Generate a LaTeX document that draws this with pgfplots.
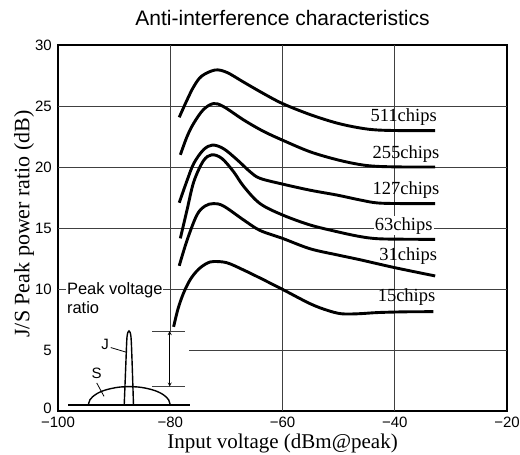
\documentclass[border=0pt]{standalone}
\usepackage{fontspec}
\setmainfont{Liberation Sans}
\newfontfamily\seriffont{Liberation Serif}
\usepackage{pgfplots}
\pgfplotsset{compat=1.18}
\tikzset{
  gridc/.style={black!75, line width=0.7pt},
  curve/.style={black, line width=2.9pt, smooth, tension=0.55},
  thin curve/.style={black, line width=1.4pt},
  chip/.style={font=\seriffont\fontsize{18.5}{20}\selectfont, inner sep=1pt},
}
\begin{document}
\begin{tikzpicture}
\begin{axis}[
  scale only axis, width=449pt, height=366pt,
  at={(0pt,0pt)}, anchor=south west,
  xmin=-100, xmax=-20, ymin=0, ymax=30,
  xtick={-100,-80,-60,-40,-20},
  xticklabels={−100,−80,−60,−40,−20},
  ytick={5,10,15,20,25,30},
  yticklabels={5,10,15,20,25,30},
  extra y ticks={0},
  extra y tick labels={0},
  extra y tick style={yticklabel style={yshift=3pt}},
  major tick length=0pt,
  axis line style={line width=1.3pt},
  tick label style={font=\fontsize{15}{17}\selectfont, inner sep=1pt},
  xticklabel style={yshift=-4.5pt},
  yticklabel style={xshift=-5pt},
  clip=false,
]
% grid
\draw[gridc] (axis cs:-100,10) -- (axis cs:-20,10);
\draw[gridc] (axis cs:-100,15) -- (axis cs:-20,15);
\draw[gridc] (axis cs:-100,20) -- (axis cs:-20,20);
\draw[gridc] (axis cs:-100,25) -- (axis cs:-20,25);
\draw[gridc] (axis cs:-76.6,5) -- (axis cs:-20,5);
\draw[gridc] (axis cs:-60,0) -- (axis cs:-60,30);
\draw[gridc] (axis cs:-40,0) -- (axis cs:-40,30);
\draw[gridc] (axis cs:-80,6.55) -- (axis cs:-80,30);
% annotation
\draw[gridc] (axis cs:-83.2,6.55) -- (axis cs:-77.3,6.55);
\draw[gridc] (axis cs:-83.2,2.0) -- (axis cs:-77.3,2.0);
\draw[black, line width=0.8pt, <->, >=stealth] (axis cs:-80.1,2.0) -- (axis cs:-80.1,6.55);

% 511 chips
\addplot[curve, no markers] coordinates {(-78.4,24.07) (-77.0,25.5) (-75.8,26.6) (-74.4,27.45) (-72.0,27.95) (-69.9,27.75) (-66.9,26.95) (-63.5,26.05) (-60.0,25.2) (-55.1,24.3) (-50.3,23.6) (-46.2,23.2) (-43,23.03) (-38,22.98) (-32.8,22.98)};
% 255 chips
\addplot[curve, no markers] coordinates {(-78.2,21.0) (-77.0,22.5) (-75.8,23.6) (-74.1,24.7) (-72.3,25.2) (-70.5,24.95) (-66.9,23.85) (-63.5,22.95) (-60.0,22.2) (-55.1,21.25) (-50.3,20.6) (-46.2,20.2) (-43,20.05) (-38,20.0) (-32.8,20.0)};
% 127 chips
\addplot[curve, no markers] coordinates {(-78.4,17.07) (-77.0,18.9) (-75.8,20.3) (-74.1,21.4) (-72.5,21.8) (-70.5,21.5) (-68.1,20.6) (-65.75,19.6) (-64.0,19.07) (-60.0,18.6) (-55.1,18.1) (-50.3,17.7) (-46.2,17.3) (-43,17.05) (-38,17.0) (-32.8,17.0)};
% 63 chips
\addplot[curve, no markers] coordinates {(-78.2,14.15) (-77.0,16.5) (-75.8,18.8) (-74.1,20.5) (-72.6,21.0) (-70.8,20.7) (-68.7,19.6) (-66.9,18.4) (-64.0,17.0) (-60.0,16.07) (-55.1,15.25) (-50.3,14.7) (-46.2,14.3) (-43,14.12) (-38,14.08) (-32.8,14.07)};
% 31 chips
\addplot[curve, no markers] coordinates {(-78.4,11.9) (-77.0,14.0) (-75.25,16.07) (-73.8,16.8) (-72.3,17.0) (-70.5,16.8) (-66.9,15.65) (-64.0,14.8) (-60.0,14.15) (-55.1,13.3) (-50.3,12.8) (-46.2,12.4) (-40,11.75) (-32.8,11.07)};
% 15 chips
\addplot[curve, no markers] coordinates {(-79.4,6.9) (-78.6,8.4) (-77.6,9.7) (-76.4,10.8) (-75.0,11.6) (-73.5,12.1) (-72.3,12.25) (-69.9,12.15) (-66.9,11.55) (-64.0,10.9) (-60.0,9.97) (-55.1,8.8) (-52,8.25) (-49.5,7.97) (-46.5,7.97) (-43,8.07) (-38,8.13) (-33.1,8.14)};

% chip labels
\node[chip] at (axis cs:-38.4,24.1) {511chips};
\node[chip] at (axis cs:-38.0,21.1) {255chips};
\node[chip] at (axis cs:-38.0,18.1) {127chips};
\node[chip, fill=white] at (axis cs:-38.4,15.2) {63chips};
\node[chip] at (axis cs:-37.6,12.7) {31chips};
\node[chip] at (axis cs:-37.9,9.3) {15chips};

% inset
\addplot[thin curve, no markers] coordinates {(-98.2,0.5) (-76.4,0.5)};
\addplot[thin curve, smooth, no markers] coordinates {(-94.6,0.5) (-94.3,0.93) (-93.8,1.18) (-93,1.44) (-92,1.65) (-91,1.79) (-90,1.89) (-89,1.96) (-87.3,2.0) (-85.6,1.96) (-84.6,1.89) (-83.6,1.79) (-82.6,1.65) (-81.6,1.44) (-80.8,1.18) (-80.3,0.93) (-80,0.5)};
\addplot[thin curve, smooth, no markers] coordinates {(-88.2,0.5) (-87.9,4.0) (-87.7,6.09) (-87.35,6.56) (-87.0,6.09) (-86.8,4.0) (-86.55,0.5)};
\draw[black, line width=0.8pt] (axis cs:-90.6,5.2) -- (axis cs:-87.7,4.8);
\draw[black, line width=0.8pt] (axis cs:-93.1,2.3) -- (axis cs:-91.8,1.2);
\node[font=\fontsize{15}{17}\selectfont] at (axis cs:-91.6,5.45) {J};
\node[font=\fontsize{15}{17}\selectfont] at (axis cs:-93.1,3.05) {S};
\node[font=\fontsize{16.5}{19}\selectfont, fill=white, align=left, anchor=north west, inner sep=1pt] at (axis cs:-98.6,10.6) {Peak voltage\\ratio};
\end{axis}
\node[font=\fontsize{21}{25}\selectfont] at (224.5pt,393pt) {Anti-interference characteristics};
\node[font=\seriffont\fontsize{21}{25}\selectfont] at (224.5pt,-32pt) {Input voltage (dBm@peak)};
\node[font=\seriffont\fontsize{22}{26}\selectfont, rotate=90] at (-34pt,187pt) {J/S Peak power ratio (dB)};
\pgfresetboundingbox
\path (-58pt,-44pt) rectangle (462pt,411pt);
\end{tikzpicture}
\end{document}
